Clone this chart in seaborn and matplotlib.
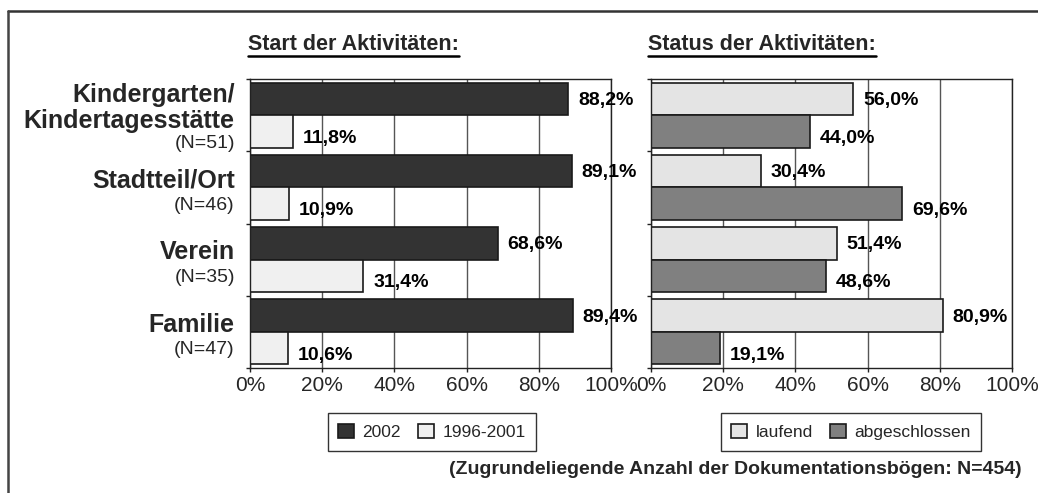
import numpy as np
import pandas as pd
import matplotlib
matplotlib.use("Agg")
import matplotlib.pyplot as plt
import matplotlib.transforms as mtransforms
from matplotlib.lines import Line2D
import seaborn as sns

# Daten
kategorien = ["Kindergarten/\nKindertagesstätte", "Stadtteil/Ort", "Verein", "Familie"]
anzahl_n = [51, 46, 35, 47]

start_serien = ["2002", "1996-2001"]
start_2002 = [88.2, 89.1, 68.6, 89.4]
start_1996_2001 = [11.8, 10.9, 31.4, 10.6]

status_serien = ["laufend", "abgeschlossen"]
status_laufend = [56.0, 30.4, 51.4, 80.9]
status_abgeschlossen = [44.0, 69.6, 48.6, 19.1]

x_ticks = [0, 20, 40, 60, 80, 100]

titel_links = "Start der Aktivitäten:"
titel_rechts = "Status der Aktivitäten:"
fussnote = "(Zugrundeliegende Anzahl der Dokumentationsbögen: N=454)"


def to_long(serien, werte_listen):
    rows = []
    for s, werte in zip(serien, werte_listen):
        for k, v in zip(kategorien, werte):
            rows.append({"kategorie": k, "serie": s, "wert": v})
    return pd.DataFrame(rows)


def fmt(v):
    return f"{v:.1f}".replace(".", ",") + "%"


sns.set_style("white")
plt.rcParams["font.family"] = ["Liberation Sans", "DejaVu Sans"]

fig = plt.figure(figsize=(10.38, 4.93), dpi=100)
ax_l = fig.add_axes([250 / 1038, 1 - 368 / 493, 361 / 1038, 289 / 493])
ax_r = fig.add_axes([651 / 1038, 1 - 368 / 493, 361 / 1038, 289 / 493])


def panel(ax, serien, werte_listen, farben, legend_center):
    df = to_long(serien, werte_listen)
    sns.barplot(data=df, y="kategorie", x="wert", hue="serie", order=kategorien,
                hue_order=serien, palette=farben, orient="h", width=0.9, gap=0,
                edgecolor="#1a1a1a", linewidth=1.2, saturation=1, ax=ax)
    ax.set_xlim(0, 100)
    ax.set_xticks(x_ticks)
    ax.set_xticklabels([f"{t}%" for t in x_ticks], fontsize=15)
    ax.set_yticks(np.arange(len(kategorien) + 1) - 0.5)
    ax.set_yticklabels([])
    ax.set_ylim(len(kategorien) - 0.5, -0.5)
    ax.set_xlabel("")
    ax.set_ylabel("")
    ax.grid(axis="x", color="#555555", linewidth=1)
    ax.set_axisbelow(True)
    for sp in ax.spines.values():
        sp.set_color("#222222")
        sp.set_linewidth(1)
    ax.tick_params(axis="both", length=3, width=1, color="#222222", pad=3, bottom=True, left=True)

    # Werte an die Balken schreiben
    for j, cont in enumerate(ax.containers):
        dy = -1 if j == 0 else -5
        for p, v in zip(cont.patches, werte_listen[j]):
            yc = p.get_y() + p.get_height() / 2
            ax.annotate(fmt(v), xy=(v, yc), xytext=(7, dy), textcoords="offset points",
                        ha="left", va="center", fontsize=14, fontweight="bold", color="black")

    handles, labels = ax.get_legend_handles_labels()
    leg = ax.legend(handles, labels, loc="center", ncol=2,
                    bbox_to_anchor=legend_center, bbox_transform=fig.transFigure,
                    fontsize=12.5, frameon=True, fancybox=False, shadow=False,
                    handlelength=0.9, handleheight=0.9, handletextpad=0.5,
                    columnspacing=1.0, borderpad=0.6)
    leg.get_frame().set_edgecolor("black")
    leg.get_frame().set_linewidth(1)
    for h in leg.legend_handles:
        h.set_edgecolor("#1a1a1a")


panel(ax_l, start_serien, [start_2002, start_1996_2001], ["#333333", "#f0f0f0"],
      (432 / 1038, 1 - 432 / 493))
panel(ax_r, status_serien, [status_laufend, status_abgeschlossen], ["#e4e4e4", "#808080"],
      (851 / 1038, 1 - 432 / 493))

# Kategorie-Beschriftungen links
trans = mtransforms.blended_transform_factory(ax_l.transAxes, ax_l.transData)
for i, (k, n) in enumerate(zip(kategorien, anzahl_n)):
    ax_l.text(-0.042, i - 0.1, k, transform=trans, ha="right", va="center",
              fontsize=18, fontweight="bold", linespacing=1.12)
    n_off = 0.39 if "\n" in k else 0.25
    ax_l.text(-0.042, i + n_off, f"(N={n})", transform=trans, ha="right", va="center",
              fontsize=14)

# Titel mit Unterstreichung
t_l = fig.text(248 / 1038, 1 - 44 / 493, titel_links, ha="left", va="center",
               fontsize=15.5, fontweight="bold")
t_r = fig.text(648 / 1038, 1 - 44 / 493, titel_rechts, ha="left", va="center",
               fontsize=15.5, fontweight="bold")
fig.text(1022 / 1038, 1 - 469 / 493, fussnote, ha="right", va="center",
         fontsize=14, fontweight="bold")

fig.canvas.draw()
renderer = fig.canvas.get_renderer()
for t in (t_l, t_r):
    bb = t.get_window_extent(renderer).transformed(fig.transFigure.inverted())
    y_line = bb.y0 - 1.0 / 493
    fig.add_artist(Line2D([bb.x0, bb.x1], [y_line, y_line], transform=fig.transFigure,
                          color="black", linewidth=1.8))

# Rahmen oben und links
fig.add_artist(Line2D([8 / 1038, 1.0], [1 - 11 / 493, 1 - 11 / 493], transform=fig.transFigure,
                      color="#333333", linewidth=1.8))
fig.add_artist(Line2D([8 / 1038, 8 / 1038], [0.0, 1 - 11 / 493], transform=fig.transFigure,
                      color="#444444", linewidth=1.8))

fig.savefig("out.png", dpi=100)
